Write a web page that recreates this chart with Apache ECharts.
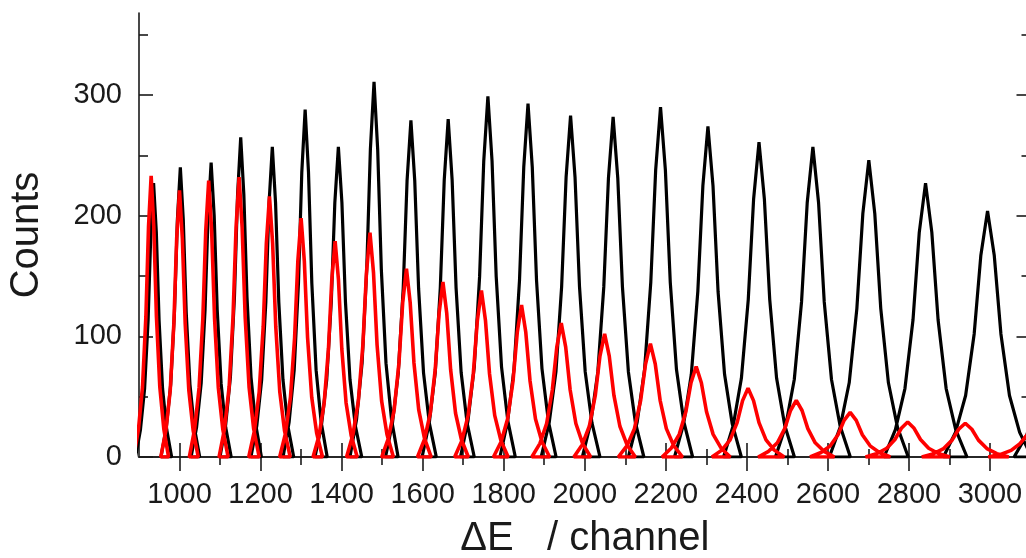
<!DOCTYPE html>
<html>
<head>
<meta charset="utf-8">
<title>ΔE spectrum</title>
<script src="https://cdn.jsdelivr.net/npm/echarts@6/dist/echarts.min.js"></script>
<style>
  html, body { margin: 0; padding: 0; background: #fff; }
  #chart { width: 1026px; height: 558px; }
</style>
</head>
<body>
<div id="chart"></div>
<script>
// peak centres (channel), heights (counts) and FWHM (channel)
const blackCentres = [936, 1002, 1078, 1151, 1229, 1310, 1392, 1480, 1571, 1663, 1761, 1860, 1965, 2070, 2187, 2304, 2430, 2563, 2701, 2841, 2994, 3175];
const blackHeights = [227, 240, 244, 265, 257, 288, 257, 311, 279, 280, 299, 293, 283, 282, 290, 274, 261, 257, 246, 227, 204, 185];
const blackWidths = [27, 29, 30, 31, 32, 33, 35, 36, 38, 39, 41, 42, 44, 46, 48, 50, 53, 56, 59, 62, 66, 70];

const redCentres = [930, 1000, 1072, 1147, 1222, 1300, 1384, 1470, 1560, 1650, 1745, 1844, 1942, 2049, 2162, 2275, 2403, 2522, 2655, 2797, 2939, 3108];
const redHeights = [233, 221, 229, 232, 216, 198, 179, 186, 156, 145, 138, 126, 111, 102, 94, 75, 57, 47, 37, 29, 28, 22];
const redWidths = [26, 28, 29, 30, 31, 32, 33, 35, 37, 38, 40, 42, 44, 46, 48, 51, 54, 57, 60, 63, 65, 68];

// tick labels
const xLabels = [1000, 1200, 1400, 1600, 1800, 2000, 2200, 2400, 2600, 2800, 3000];
const xMinor = [1100, 1300, 1500, 1700, 1900, 2100, 2300, 2500, 2700, 2900];
const yLabels = [0, 100, 200, 300];
const yMinor = [50, 150, 250, 350];

const X_MIN = 900;
const X_MAX = 3100;
const Y_MIN = 0;
const Y_MAX = 368;

// peak outline, offsets in FWHM units and fraction of peak height
const PROFILE = [
  [-1.65, 0], [-1.2, 0.1], [-0.82, 0.25], [-0.5, 0.5], [-0.25, 0.82], [0, 1],
  [0.25, 0.82], [0.5, 0.5], [0.82, 0.25], [1.2, 0.1], [1.65, 0],
];

function peakPoints(centres, heights, widths) {
  const pts = [];
  centres.forEach((c, i) => {
    PROFILE.forEach(([dx, f]) => {
      pts.push([c + dx * widths[i], heights[i] * f]);
    });
  });
  return pts;
}

const FONT = "'Liberation Sans', Arial, sans-serif";
const INK = "#1a1a1a";
const frameLine = { show: true, lineStyle: { color: INK, width: 1.6 } };
const noLine = { show: false };
const tickStyle = { color: INK, width: 1.6 };

function xAxis(position, values, length, extra) {
  return Object.assign({
    type: "value",
    position: position,
    min: X_MIN,
    max: X_MAX,
    axisLine: noLine,
    axisTick: { show: true, inside: true, length: length, customValues: values, lineStyle: tickStyle },
    axisLabel: { show: false },
    splitLine: { show: false },
  }, extra || {});
}

function yAxis(position, values, length, extra) {
  return Object.assign({
    type: "value",
    position: position,
    min: Y_MIN,
    max: Y_MAX,
    axisLine: noLine,
    axisTick: { show: true, inside: true, length: length, customValues: values, lineStyle: tickStyle },
    axisLabel: { show: false },
    splitLine: { show: false },
  }, extra || {});
}

const chart = echarts.init(document.getElementById("chart"), null, { renderer: "canvas" });
chart.setOption({
  animation: false,
  backgroundColor: "#fff",
  grid: { left: 139, right: -4.5, top: 13, bottom: 101, outerBoundsMode: "none" },
  xAxis: [
    xAxis("bottom", xLabels, 14, {
      axisLine: frameLine,
      axisLabel: {
        show: true,
        customValues: xLabels,
        formatter: (v) => String(v),
        color: INK,
        fontFamily: FONT,
        fontSize: 29,
        margin: 23,
      },
      name: "ΔE   / channel",
      nameLocation: "middle",
      nameGap: 62,
      nameTextStyle: { color: INK, fontFamily: FONT, fontSize: 40 },
    }),
    xAxis("bottom", xMinor, 8),
    xAxis("top", xLabels, 14, { axisLine: frameLine }),
    xAxis("top", xMinor, 8),
  ],
  yAxis: [
    yAxis("left", yLabels, 14, {
      axisLine: frameLine,
      axisLabel: {
        show: true,
        customValues: yLabels,
        formatter: (v) => String(v),
        color: INK,
        fontFamily: FONT,
        fontSize: 29,
        margin: 17,
      },
      name: "Counts",
      nameLocation: "middle",
      nameRotate: 90,
      nameGap: 92,
      nameTextStyle: { color: INK, fontFamily: FONT, fontSize: 40 },
    }),
    yAxis("left", yMinor, 9),
    yAxis("right", yLabels, 14, { axisLine: frameLine }),
    yAxis("right", yMinor, 9),
  ],
  series: [
    {
      name: "black",
      type: "line",
      xAxisIndex: 0,
      yAxisIndex: 0,
      data: peakPoints(blackCentres, blackHeights, blackWidths),
      symbol: "none",
      lineStyle: { color: "#000", width: 3.2 },
      z: 3,
    },
    {
      name: "red",
      type: "line",
      xAxisIndex: 0,
      yAxisIndex: 0,
      data: peakPoints(redCentres, redHeights, redWidths),
      symbol: "none",
      lineStyle: { color: "#ff0000", width: 3.6 },
      z: 4,
    },
  ],
});
</script>
</body>
</html>
